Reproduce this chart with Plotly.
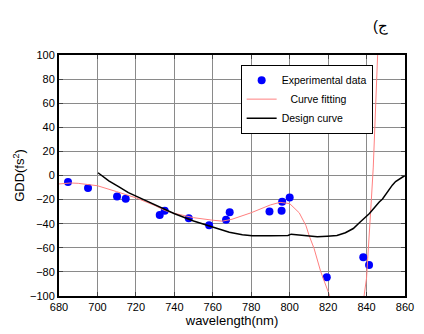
import plotly.graph_objects as go

# Experimental data
exp_x = [684.7, 695.1, 710.2, 714.7, 732.4, 735.0, 747.5, 758.1, 766.9, 768.8,
         789.5, 795.8, 796.1, 800.0, 819.3, 838.3, 841.3]
exp_y = [-5.4, -10.4, -17.4, -19.3, -32.8, -29.3, -35.5, -41.2, -36.8, -30.6,
         -29.8, -29.3, -21.7, -18.2, -84.4, -67.9, -74.3]

# Curve fitting (two visible branches)
fit_x = [680, 686, 690, 700, 710, 720, 730, 735, 740, 750, 760, 765, 770, 780,
         790, 795, 800, 805, 808.5, 810.1, 812.7, 816.1, 820.8, 821.5,
         None,
         838.5, 838.7, 840, 841.5, 842.5, 843.5, 844.5, 845.2, 845.7, 846.0]
fit_y = [-7.0, -6.2, -6.5, -8.5, -13.4, -18.5, -25.0, -29.0, -31.4, -35.0, -37.1, -37.9, -36.3, -30.9,
         -24.4, -22.3, -23.3, -31.0, -41.7, -49.8, -60.6, -79.5, -99.8, -105,
         None,
         -105, -100, -85, -50, -20, 7, 47, 77, 100, 110]

# Design curve
des_x = [700.3, 705.9, 711.0, 716.1, 721.2, 729.7, 739.8, 750.0, 760.2, 768.6, 775.4,
         780.5, 790, 799.1, 800.8, 807.6, 814.4, 819.5, 824.6, 829, 833.1, 836.4,
         841.5, 846.6, 848.3, 853.4, 855.1, 860.0]
des_y = [2.3, -4.4, -9.3, -14.2, -18.0, -24.2, -31.5, -37.7, -43.1, -47.1, -49.2,
         -50.1, -50.0, -49.8, -48.7, -49.5, -50.9, -50.4, -49.8, -47.5, -44.0, -39.0,
         -31.5, -22.0, -19.5, -8.0, -5.0, 0.0]

x_ticks = list(range(680, 861, 20))
y_ticks = list(range(-100, 101, 20))

fig = go.Figure()
fig.add_trace(go.Scatter(x=exp_x, y=exp_y, mode="markers", name="Experimental data",
                         marker=dict(color="#0000ff", size=8, line=dict(width=0))))
fig.add_trace(go.Scatter(x=fit_x, y=fit_y, mode="lines", name="   Curve fitting",
                         line=dict(color="#ff8080", width=1)))
fig.add_trace(go.Scatter(x=des_x, y=des_y, mode="lines", name="Design curve",
                         line=dict(color="black", width=1.5)))

fig.update_layout(
    width=424, height=334,
    margin=dict(l=59, r=10, t=55, b=32),
    paper_bgcolor="white", plot_bgcolor="white",
    font=dict(family="Liberation Sans, Arial", size=11, color="black"),
    showlegend=True,
    legend=dict(x=0.525, y=0.96, xanchor="left", yanchor="top",
                bordercolor="black", borderwidth=1, bgcolor="white",
                font=dict(size=10.5), tracegroupgap=0, itemwidth=30),
    annotations=[dict(text="(ج", xref="paper", yref="paper", x=0.93, y=1.12,
                      xanchor="center", yanchor="middle",
                      showarrow=False, font=dict(size=15, color="black"))],
)

fig.update_xaxes(range=[680, 860], tickvals=x_ticks, ticks="inside", ticklen=4,
                 showgrid=True, gridcolor="#8a8a8a", gridwidth=1,
                 showline=True, linecolor="black", linewidth=2, mirror="ticks",
                 zeroline=False, title=dict(text="wavelength(nm)", standoff=2),
                 tickfont=dict(size=11))
fig.update_yaxes(range=[-100, 100], tickvals=y_ticks, ticks="inside", ticklen=4,
                 showgrid=True, gridcolor="#8a8a8a", gridwidth=1,
                 showline=True, linecolor="black", linewidth=2, mirror="ticks",
                 zeroline=False, title=dict(text="GDD(fs<sup>2</sup>)", standoff=2),
                 tickfont=dict(size=11))

fig.write_html("out.html")
